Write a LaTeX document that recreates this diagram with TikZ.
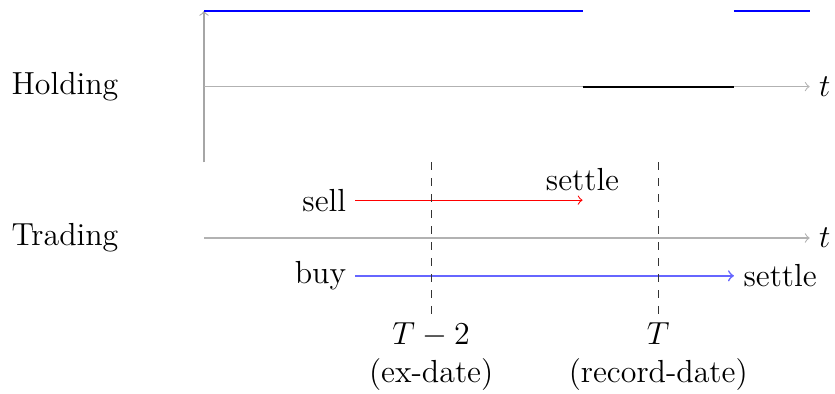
\documentclass[tikz,border=0pt]{standalone}
\begin{document}
\begin{tikzpicture}[
  every node/.style={font=\large},
  axisline/.style={gray!60, ->},
  dashmark/.style={dashed, black!80},
  lbl/.style={anchor=west, inner sep=0pt}
]
\useasboundingbox (-2.695,-2.06) rectangle (8.335,3.144);
% coordinates
\coordinate (h0) at (0,2);
\coordinate (h8) at (8,2);
\coordinate (h5) at (5,2);
\coordinate (h7) at (7,2);
\coordinate (v1) at (0,1);
\coordinate (v3) at (0,3);
\coordinate (b5) at (5,3);
\coordinate (b7) at (7,3);
\coordinate (b8) at (8,3);
\coordinate (t0) at (0,0);
\coordinate (t8) at (8,0);
\coordinate (d1top) at (3,1);
\coordinate (d1bot) at (3,-1);
\coordinate (d2top) at (6,1);
\coordinate (d2bot) at (6,-1);
\coordinate (s0) at (2,0.5);
\coordinate (s1) at (5,0.5);
\coordinate (u0) at (2,-0.5);
\coordinate (u1) at (7,-0.5);
% labels
\node[lbl] (holding) at (-2.55,2) {Holding};
\node[lbl] (trading) at (-2.55,0) {Trading};
% holding axes
\draw[gray!70, ->] (v1) -- (v3);
\draw[axisline] (h0) -- (h8) node[right, text=black] (th) {$t$};
\draw[blue, thick] (v3) -- (b5);
\draw[blue, thick] (b7) -- (b8);
\draw[black, thick] (h5) -- (h7);
% trading axis
\draw[axisline] (t0) -- (t8) node[right, text=black] (tt) {$t$};
\node[left] (sell) at (s0) {sell};
\node[left] (buy) at (u0) {buy};
\draw[red, ->] (sell.east) -- (s1) node[above, text=black] (sset) {settle};
\draw[blue!60, semithick, ->] (buy.east) -- (u1) node[right, text=black] (bset) {settle};
\draw[dashmark] (d1top) -- (d1bot);
\draw[dashmark] (d2top) -- (d2bot);
\node[below, align=center] (exd) at (d1bot) {$T-2$\\(ex-date)};
\node[below, align=center] (recd) at (d2bot) {$T$\\(record-date)};
\end{tikzpicture}
\end{document}
